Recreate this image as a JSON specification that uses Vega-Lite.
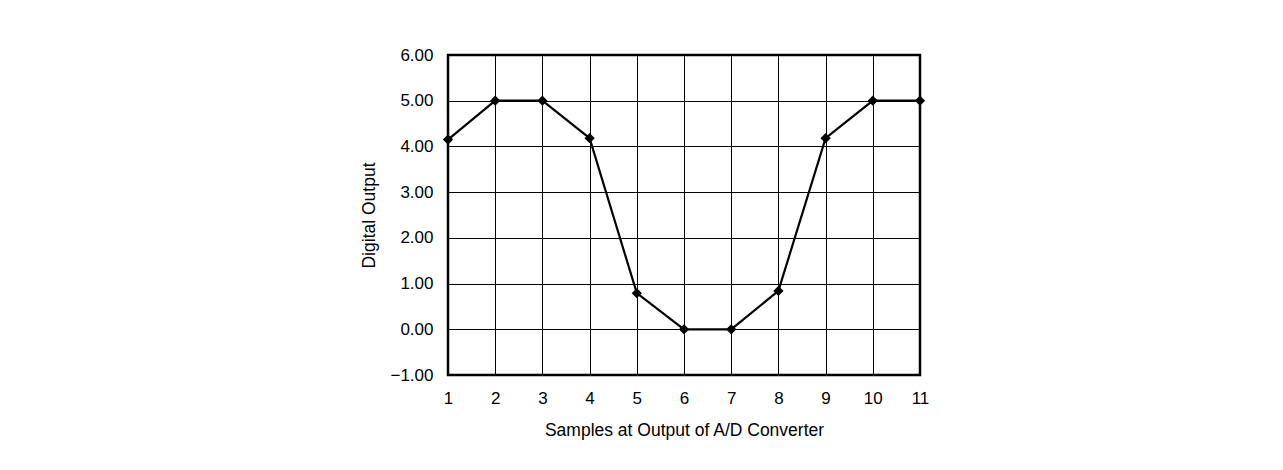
{
  "$schema": "https://vega.github.io/schema/vega-lite/v6.json",
  "width": 472,
  "height": 320,
  "autosize": {"type": "none"},
  "padding": {"left": 448, "top": 55, "right": 363, "bottom": 95},
  "background": "white",
  "config": {
    "view": {"stroke": "black", "strokeWidth": 2.5},
    "font": "Liberation Sans",
    "axis": {
      "domain": false,
      "ticks": false,
      "grid": true,
      "gridColor": "black",
      "gridOpacity": 1,
      "gridWidth": 1,
      "labelFont": "Liberation Sans",
      "labelFontSize": 17,
      "labelColor": "black",
      "titleFont": "Liberation Sans",
      "titleFontSize": 17.5,
      "titleFontWeight": "normal",
      "titleColor": "black"
    }
  },
  "data": {
    "values": [
      {"sample": 1, "output": 4.15},
      {"sample": 2, "output": 5.0},
      {"sample": 3, "output": 5.0},
      {"sample": 4, "output": 4.18},
      {"sample": 5, "output": 0.79},
      {"sample": 6, "output": 0.0},
      {"sample": 7, "output": 0.0},
      {"sample": 8, "output": 0.84},
      {"sample": 9, "output": 4.18},
      {"sample": 10, "output": 5.0},
      {"sample": 11, "output": 5.0}
    ]
  },
  "encoding": {
    "x": {
      "field": "sample",
      "type": "quantitative",
      "scale": {"domain": [1, 11], "nice": false, "zero": false},
      "axis": {"values": [1,2,3,4,5,6,7,8,9,10,11], "title": "Samples at Output of A/D Converter", "labelPadding": 15, "titlePadding": 15, "labelFlush": false}
    },
    "y": {
      "field": "output",
      "type": "quantitative",
      "scale": {"domain": [-1, 6], "nice": false, "zero": false},
      "axis": {"values": [-1,0,1,2,3,4,5,6], "format": ".2f", "title": "Digital Output", "labelPadding": 15, "titlePadding": 11, "labelFlush": false}
    }
  },
  "layer": [
    {"mark": {"type": "line", "color": "black", "strokeWidth": 2.2}},
    {"mark": {"type": "point", "shape": "diamond", "filled": true, "color": "black", "opacity": 1, "size": 105}}
  ]
}
